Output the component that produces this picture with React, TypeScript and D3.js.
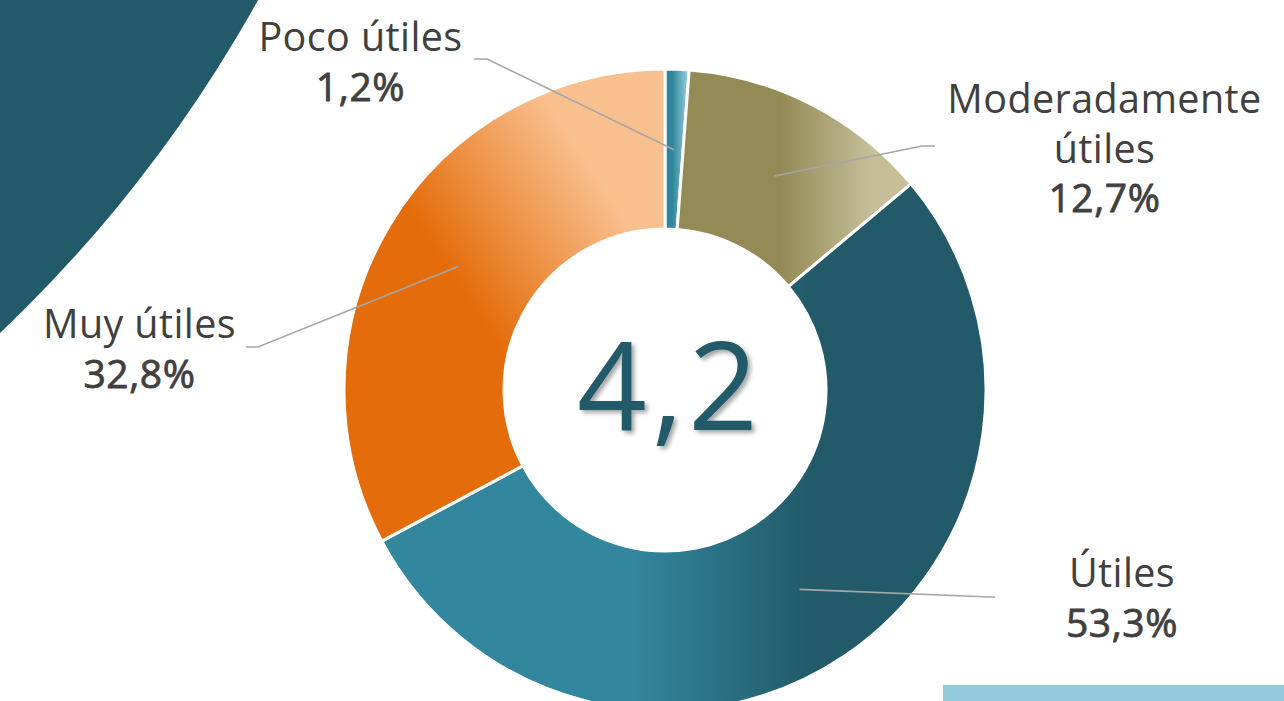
import React from "react";
import * as d3 from "d3";

const categories = ["Poco útiles", "Moderadamente útiles", "Útiles", "Muy útiles"];
const values = [1.2, 12.7, 53.3, 32.8];
const labelLines = [["Poco útiles"], ["Moderadamente", "útiles"], ["Útiles"], ["Muy útiles"]];
const valueLabels = ["1,2%", "12,7%", "53,3%", "32,8%"];
const centerValue = "4,2";

const W = 1284;
const H = 701;
const cx = 665;
const cy = 390;
const outerR = 321;
const innerR = 161;

// label layout: [anchor x, first baseline y], elbow point, end point
const labelPos: [number, number][] = [[360.5, 51], [1104.5, 113], [1122, 587], [139.5, 338]];
const elbows: [number, number][] = [[487, 59], [922, 146], [990, 597], [258, 347]];
const ends: [number, number][] = [[474, 59], [935, 146], [995, 597], [246, 347]];

const FONT = "'Open Sans', 'Noto Sans', sans-serif";
const TEXT = "#404040";

export default function App() {
  const pie = d3.pie<number>().sort(null).value((d) => d).startAngle(0).endAngle(2 * Math.PI);
  const arcs = pie(values);
  const arcGen = d3.arc<d3.PieArcDatum<number>>().innerRadius(innerR).outerRadius(outerR);
  const centroidGen = d3.arc<d3.PieArcDatum<number>>().innerRadius(innerR).outerRadius(outerR - 1);
  const fills = ["url(#gPoco)", "url(#gMod)", "url(#gUtil)", "url(#gMuy)"];
  const line = d3.line();

  return (
    <svg width={W} height={H} style={{ position: "fixed", left: 0, top: 0, background: "#fff" }}>
      <defs>
        <linearGradient id="gPoco" x1="0" y1="0" x2="1" y2="0">
          <stop offset="0.3" stopColor="#2F8599" />
          <stop offset="0.95" stopColor="#93CDDE" />
        </linearGradient>
        <linearGradient id="gMod" x1="0" y1="0" x2="1" y2="0">
          <stop offset="0.44" stopColor="#948A56" />
          <stop offset="0.83" stopColor="#C5BE98" />
        </linearGradient>
        <linearGradient id="gUtil" x1="0" y1="0" x2="1" y2="0">
          <stop offset="0.42" stopColor="#32869D" />
          <stop offset="0.71" stopColor="#225A69" />
        </linearGradient>
        <linearGradient id="gMuy" gradientUnits="userSpaceOnUse" x1={440 - cx} y1={258 - cy} x2={588 - cx} y2={160 - cy}>
          <stop offset="0" stopColor="#E46C0A" />
          <stop offset="1" stopColor="#F9C08F" />
        </linearGradient>
        <filter id="shadow" x="-20%" y="-20%" width="140%" height="140%">
          <feDropShadow dx="3" dy="3" stdDeviation="2.2" floodColor="#000" floodOpacity="0.35" />
        </filter>
      </defs>

      <circle cx={-953} cy={-672} r={1385} fill="#225A69" />
      <rect x={943} y={685} width={W - 943} height={H - 685} fill="#92CADC" />

      <g transform={`translate(${cx},${cy})`}>
        {arcs.map((a, i) => (
          <path key={categories[i]} d={arcGen(a) || ""} fill={fills[i]} stroke="#fff" strokeWidth={3} strokeLinejoin="miter" />
        ))}
      </g>

      {arcs.map((a, i) => {
        const c = centroidGen.centroid(a);
        const pts: [number, number][] = [[cx + c[0], cy + c[1]], elbows[i], ends[i]];
        return <path key={"l" + i} d={line(pts) || ""} fill="none" stroke="#A6A6A6" strokeWidth={1.6} />;
      })}

      {labelLines.map((lines, i) => (
        <g key={"t" + i} fontFamily={FONT} fill={TEXT} textAnchor="middle">
          {lines.map((s, j) => (
            <text key={j} x={labelPos[i][0]} y={labelPos[i][1] + j * 49.5} fontSize={39.5} letterSpacing={0.4}>
              {s}
            </text>
          ))}
          <text
            x={labelPos[i][0]}
            y={labelPos[i][1] + lines.length * 49.5}
            fontSize={39}
            fontWeight={400}
            letterSpacing={0.6}
            stroke={TEXT}
            strokeWidth={0.8}
          >
            {valueLabels[i]}
          </text>
        </g>
      ))}

      <text x={cx + 5} y={430} textAnchor="middle" fontFamily={FONT} fontSize={122} letterSpacing={5} fill="#225A69" filter="url(#shadow)">
        {centerValue}
      </text>
    </svg>
  );
}
